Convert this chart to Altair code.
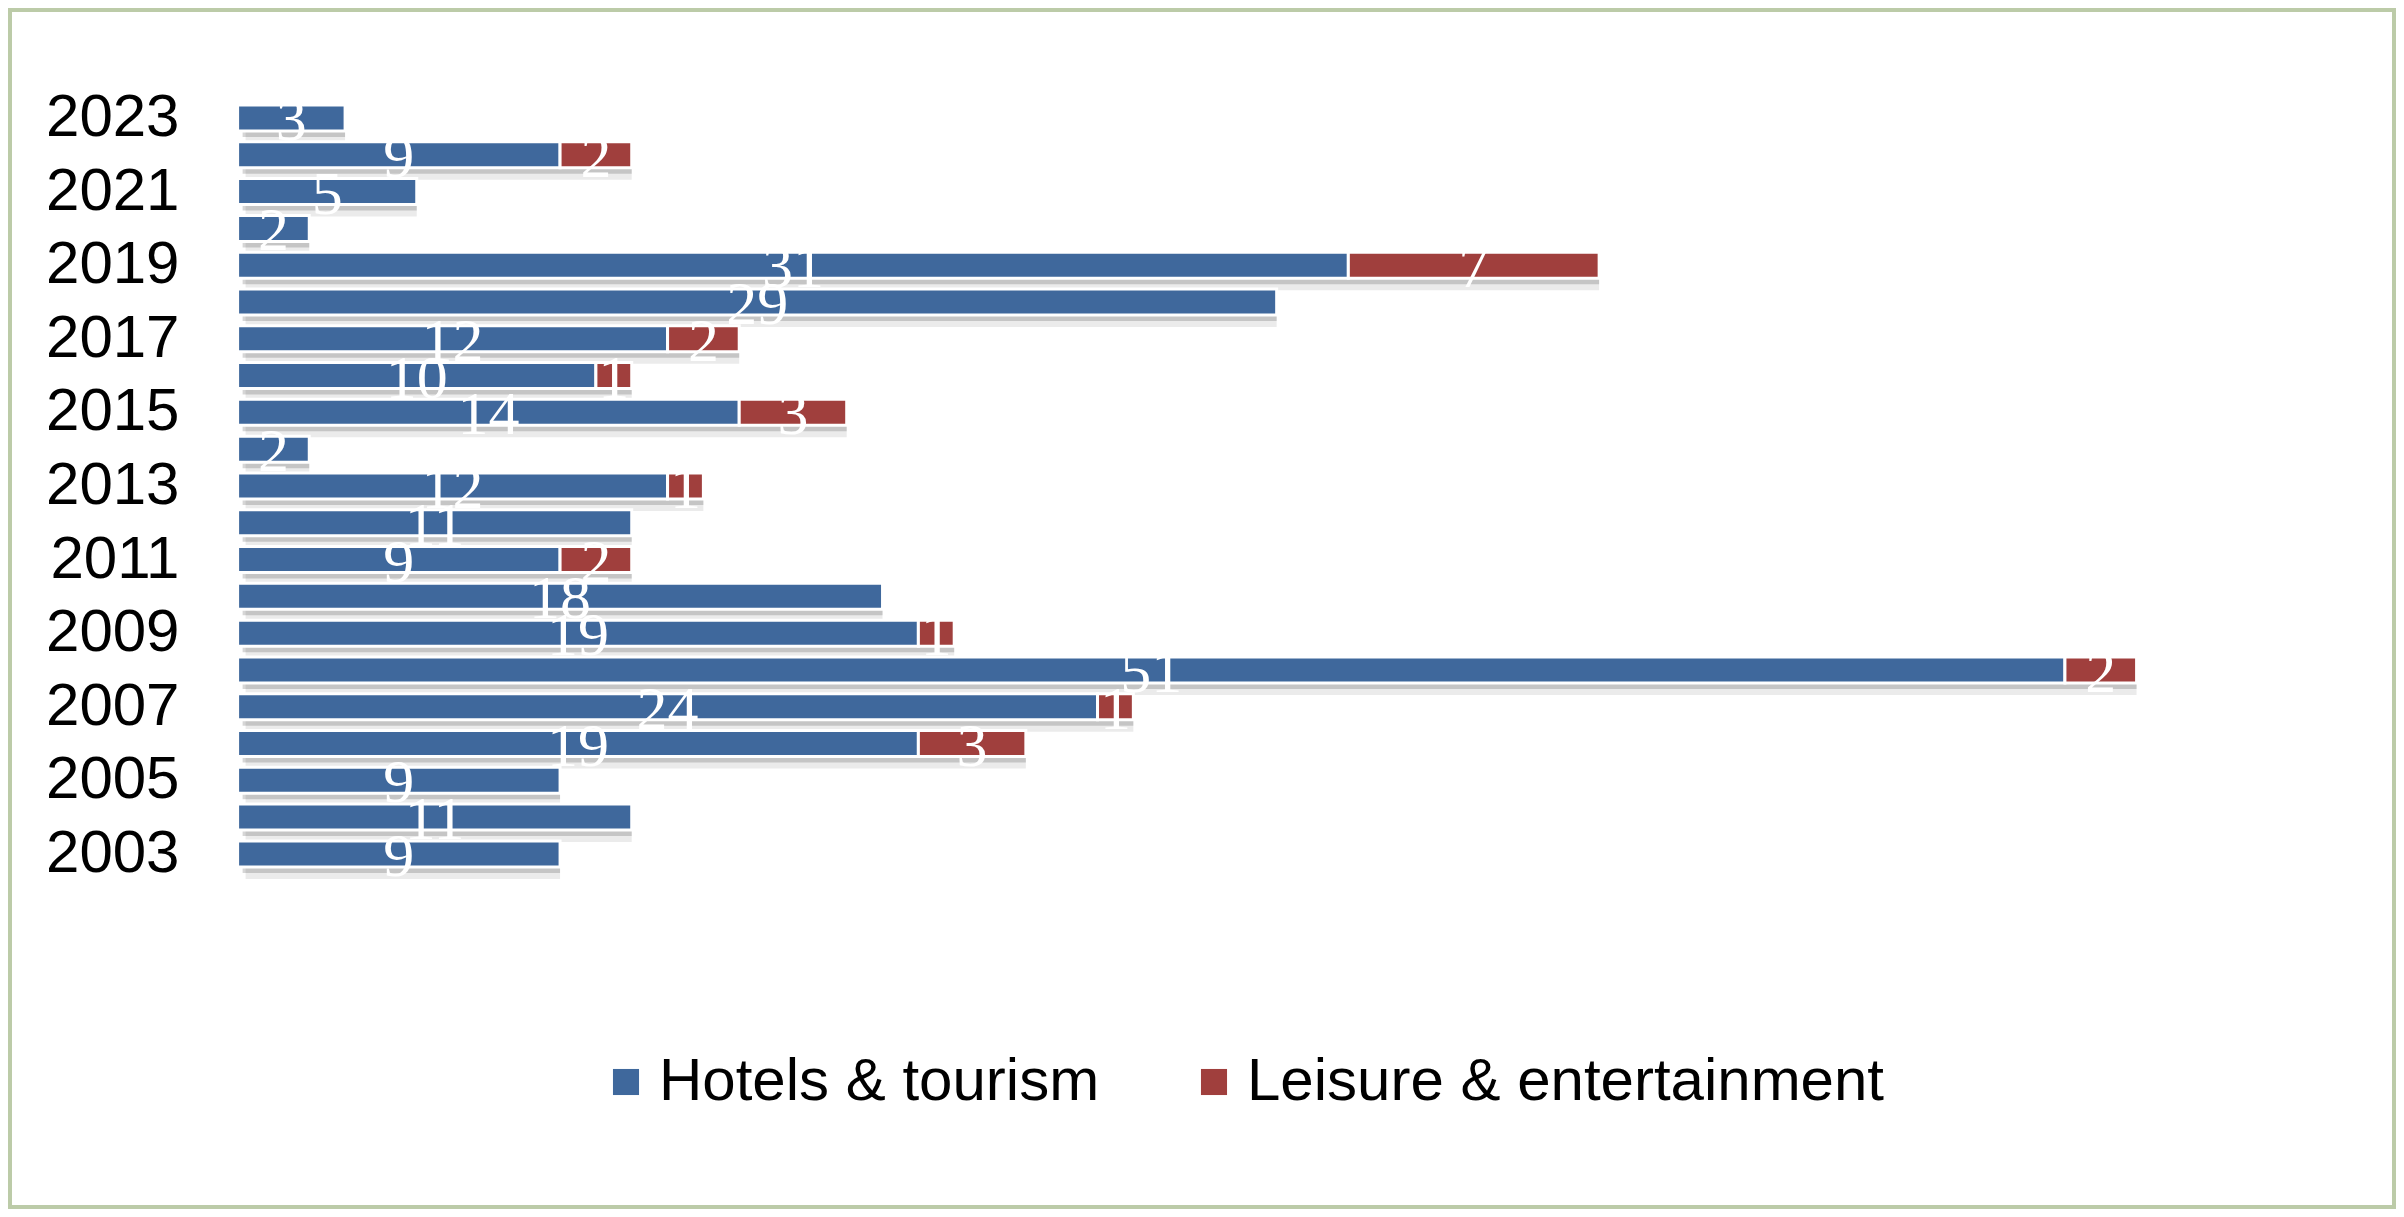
import altair as alt
import pandas as pd

years = [2023, 2022, 2021, 2020, 2019, 2018, 2017, 2016, 2015, 2014, 2013,
         2012, 2011, 2010, 2009, 2008, 2007, 2006, 2005, 2004, 2003]
hotels = [3, 9, 5, 2, 31, 29, 12, 10, 14, 2, 12, 11, 9, 18, 19, 51, 24, 19, 9, 11, 9]
leisure = [0, 2, 0, 0, 7, 0, 2, 1, 3, 0, 1, 0, 2, 0, 1, 2, 1, 3, 0, 0, 0]
series_names = ["Hotels & tourism", "Leisure & entertainment"]
series_colors = ["#3F689C", "#A03F3D"]
axis_years = [2023, 2021, 2019, 2017, 2015, 2013, 2011, 2009, 2007, 2005, 2003]

rows = []
for y, h, l in zip(years, hotels, leisure):
    rows.append({"year": y, "series": series_names[0], "value": h, "start": 0, "end": h})
    rows.append({"year": y, "series": series_names[1], "value": l, "start": h, "end": h + l})
df = pd.DataFrame(rows)
df = df[df["value"] > 0].copy()
df["mid"] = (df["start"] + df["end"]) / 2

tot = pd.DataFrame({"year": years, "total": [h + l for h, l in zip(hotels, leisure)]})
tot["zero"] = 0

W, H = 2384, 1197
x0_px = 227.6
unit = 35.83
xscale = alt.Scale(domain=[-x0_px / unit, (W - x0_px) / unit], nice=False, zero=False)
yscale = alt.Scale(range=[89.6, 862.3], paddingInner=0.4, paddingOuter=0.2)

yenc = alt.Y("year:O", sort="descending", scale=yscale,
             axis=alt.Axis(values=axis_years, title=None, ticks=False, domain=False,
                           labelPadding=0, offset=-169, labelFontSize=60,
                           labelFont="Liberation Sans", labelColor="#000000",
                           labelAlign="right", grid=False))

shadow1 = alt.Chart(tot).mark_bar(color="#000000", opacity=0.08, xOffset=8, yOffset=11, size=28).encode(
    x=alt.X("zero:Q", scale=xscale, axis=None), x2="total:Q", y=yenc)
shadow2 = alt.Chart(tot).mark_bar(color="#000000", opacity=0.16, xOffset=5, yOffset=7, size=24).encode(
    x=alt.X("zero:Q", scale=xscale, axis=None), x2="total:Q", y=yenc)

bars = alt.Chart(df).mark_bar(stroke="white", strokeWidth=3, size=26).encode(
    x=alt.X("start:Q", scale=xscale, axis=None),
    x2="end:Q",
    y=yenc,
    color=alt.Color("series:N",
                    scale=alt.Scale(domain=series_names, range=series_colors),
                    legend=alt.Legend(title=None, orient="none", direction="horizontal",
                                      legendX=586, legendY=1042,
                                      symbolType="square", symbolSize=680,
                                      symbolStrokeWidth=0,
                                      labelFontSize=60, labelFont="Liberation Sans",
                                      labelColor="#000000", labelOffset=3,
                                      columnPadding=84, padding=0,
                                      labelLimit=1000)),
)

labels = alt.Chart(df).mark_text(color="white", fontSize=62, font="Liberation Sans Narrow",
                                 baseline="middle", align="center", dy=3).encode(
    x=alt.X("mid:Q", scale=xscale, axis=None),
    y=yenc,
    text="value:Q",
)

chart = alt.layer(shadow1, shadow2, bars, labels).properties(
    width=W, height=H, autosize=alt.AutoSizeParams(type="none"), padding=2,
    background="white"
).configure_view(stroke="#BCCBA8", strokeWidth=4)

chart.save("out.html", embed_options={"renderer": "svg", "actions": False})
